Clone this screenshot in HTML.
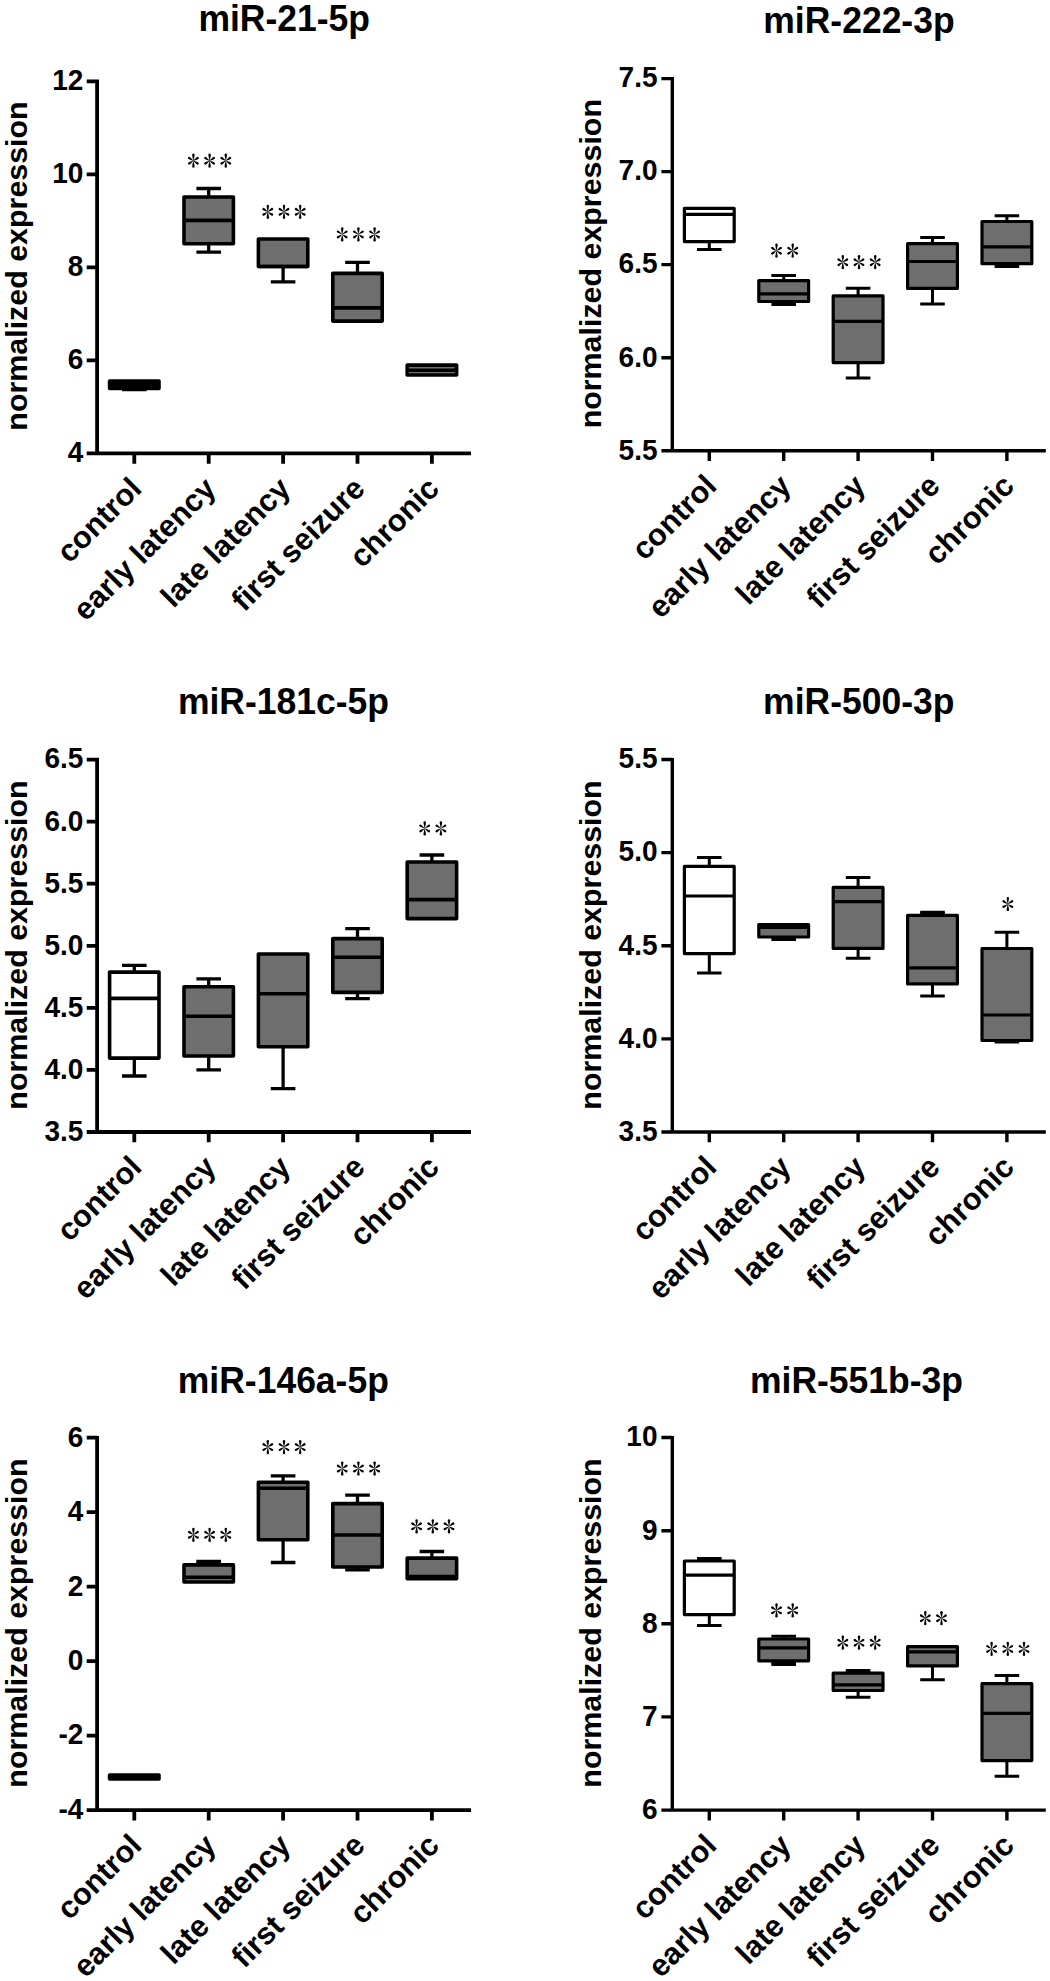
<!DOCTYPE html>
<html><head><meta charset="utf-8"><style>
html,body{margin:0;padding:0;background:#fff;}
svg{display:block;}
text{font-family:"Liberation Sans", sans-serif;font-weight:bold;fill:#000;}
.t{font-size:35.5px;}
.yl{font-size:30.4px;}
.n{font-size:28px;}
.c{font-size:30.8px;}
</style></head><body>
<svg width="1050" height="1981" viewBox="0 0 1050 1981">
<defs><path id="pt" d="M0,0.2C-0.45,-1.5 -1.2,-4.6 -1.2,-5.9A1.2,1.2 0 0 1 1.2,-5.9C1.2,-4.6 0.45,-1.5 0,0.2Z" fill="#000"/><path id="pd" d="M0,0.2C-0.45,-1.3 -1.15,-3.9 -1.15,-5.1A1.15,1.15 0 0 1 1.15,-5.1C1.15,-3.9 0.45,-1.3 0,0.2Z" fill="#000"/></defs>
<rect width="1050" height="1981" fill="#fff"/>
<text transform="translate(198.4,30.6) scale(1,1.04)" class="t">miR-21-5p</text>
<text class="yl" transform="translate(26.7,266.0) rotate(-90)" text-anchor="middle">normalized expression</text>
<path d="M97.1,79.6V453.4M86.7,453.4H471.0M86.7,81.4H97.1M86.7,174.4H97.1M86.7,267.4H97.1M86.7,360.4H97.1M134.3,453.4V463.7M208.7,453.4V463.7M283.1,453.4V463.7M357.5,453.4V463.7M431.9,453.4V463.7" stroke="#000" stroke-width="3.8" fill="none"/>
<text transform="translate(83.4,90.2) scale(1,1.04)" class="n" text-anchor="end">12</text>
<text transform="translate(83.4,183.2) scale(1,1.04)" class="n" text-anchor="end">10</text>
<text transform="translate(83.4,276.2) scale(1,1.04)" class="n" text-anchor="end">8</text>
<text transform="translate(83.4,369.2) scale(1,1.04)" class="n" text-anchor="end">6</text>
<text transform="translate(83.4,462.2) scale(1,1.04)" class="n" text-anchor="end">4</text>
<text class="c" text-anchor="end" transform="translate(143.3,490.4) rotate(-45)">control</text>
<text class="c" text-anchor="end" transform="translate(217.7,490.4) rotate(-45)">early latency</text>
<text class="c" text-anchor="end" transform="translate(292.1,490.4) rotate(-45)">late latency</text>
<text class="c" text-anchor="end" transform="translate(366.5,490.4) rotate(-45)">first seizure</text>
<text class="c" text-anchor="end" transform="translate(440.9,490.4) rotate(-45)">chronic</text>
<path d="M134.3,388.5V389.5M122.0,389.5H146.6" stroke="#000" stroke-width="3.3" fill="none"/>
<rect x="109.6" y="381.1" width="49.4" height="7.4" fill="#000" stroke="#000" stroke-width="3.6" stroke-linejoin="round"/>
<path d="M109.6,384.8H159.0" stroke="#000" stroke-width="3.6"/>
<path d="M208.7,197.0V188.5M196.4,188.5H221.0M208.7,243.7V252.2M196.4,252.2H221.0" stroke="#000" stroke-width="3.3" fill="none"/>
<rect x="184.0" y="197.0" width="49.4" height="46.7" fill="#6e6e6e" stroke="#000" stroke-width="3.6" stroke-linejoin="round"/>
<path d="M184.0,220.4H233.4" stroke="#000" stroke-width="3.6"/>
<use href="#pt" transform="translate(193.4,160.7) rotate(0)"/><use href="#pt" transform="translate(193.4,160.7) rotate(180)"/><use href="#pd" transform="translate(193.4,160.7) rotate(57)"/><use href="#pd" transform="translate(193.4,160.7) rotate(123)"/><use href="#pd" transform="translate(193.4,160.7) rotate(237)"/><use href="#pd" transform="translate(193.4,160.7) rotate(303)"/>
<use href="#pt" transform="translate(209.6,160.7) rotate(0)"/><use href="#pt" transform="translate(209.6,160.7) rotate(180)"/><use href="#pd" transform="translate(209.6,160.7) rotate(57)"/><use href="#pd" transform="translate(209.6,160.7) rotate(123)"/><use href="#pd" transform="translate(209.6,160.7) rotate(237)"/><use href="#pd" transform="translate(209.6,160.7) rotate(303)"/>
<use href="#pt" transform="translate(225.8,160.7) rotate(0)"/><use href="#pt" transform="translate(225.8,160.7) rotate(180)"/><use href="#pd" transform="translate(225.8,160.7) rotate(57)"/><use href="#pd" transform="translate(225.8,160.7) rotate(123)"/><use href="#pd" transform="translate(225.8,160.7) rotate(237)"/><use href="#pd" transform="translate(225.8,160.7) rotate(303)"/>
<path d="M283.1,266.5V281.8M270.8,281.8H295.4" stroke="#000" stroke-width="3.3" fill="none"/>
<rect x="258.4" y="239.0" width="49.4" height="27.5" fill="#6e6e6e" stroke="#000" stroke-width="3.6" stroke-linejoin="round"/>
<path d="M258.4,266.5H307.8" stroke="#000" stroke-width="3.6"/>
<use href="#pt" transform="translate(267.8,211.8) rotate(0)"/><use href="#pt" transform="translate(267.8,211.8) rotate(180)"/><use href="#pd" transform="translate(267.8,211.8) rotate(57)"/><use href="#pd" transform="translate(267.8,211.8) rotate(123)"/><use href="#pd" transform="translate(267.8,211.8) rotate(237)"/><use href="#pd" transform="translate(267.8,211.8) rotate(303)"/>
<use href="#pt" transform="translate(284.0,211.8) rotate(0)"/><use href="#pt" transform="translate(284.0,211.8) rotate(180)"/><use href="#pd" transform="translate(284.0,211.8) rotate(57)"/><use href="#pd" transform="translate(284.0,211.8) rotate(123)"/><use href="#pd" transform="translate(284.0,211.8) rotate(237)"/><use href="#pd" transform="translate(284.0,211.8) rotate(303)"/>
<use href="#pt" transform="translate(300.2,211.8) rotate(0)"/><use href="#pt" transform="translate(300.2,211.8) rotate(180)"/><use href="#pd" transform="translate(300.2,211.8) rotate(57)"/><use href="#pd" transform="translate(300.2,211.8) rotate(123)"/><use href="#pd" transform="translate(300.2,211.8) rotate(237)"/><use href="#pd" transform="translate(300.2,211.8) rotate(303)"/>
<path d="M357.5,273.4V262.4M345.2,262.4H369.8" stroke="#000" stroke-width="3.3" fill="none"/>
<rect x="332.8" y="273.4" width="49.4" height="47.7" fill="#6e6e6e" stroke="#000" stroke-width="3.6" stroke-linejoin="round"/>
<path d="M332.8,307.9H382.2" stroke="#000" stroke-width="3.6"/>
<use href="#pt" transform="translate(342.2,234.4) rotate(0)"/><use href="#pt" transform="translate(342.2,234.4) rotate(180)"/><use href="#pd" transform="translate(342.2,234.4) rotate(57)"/><use href="#pd" transform="translate(342.2,234.4) rotate(123)"/><use href="#pd" transform="translate(342.2,234.4) rotate(237)"/><use href="#pd" transform="translate(342.2,234.4) rotate(303)"/>
<use href="#pt" transform="translate(358.4,234.4) rotate(0)"/><use href="#pt" transform="translate(358.4,234.4) rotate(180)"/><use href="#pd" transform="translate(358.4,234.4) rotate(57)"/><use href="#pd" transform="translate(358.4,234.4) rotate(123)"/><use href="#pd" transform="translate(358.4,234.4) rotate(237)"/><use href="#pd" transform="translate(358.4,234.4) rotate(303)"/>
<use href="#pt" transform="translate(374.6,234.4) rotate(0)"/><use href="#pt" transform="translate(374.6,234.4) rotate(180)"/><use href="#pd" transform="translate(374.6,234.4) rotate(57)"/><use href="#pd" transform="translate(374.6,234.4) rotate(123)"/><use href="#pd" transform="translate(374.6,234.4) rotate(237)"/><use href="#pd" transform="translate(374.6,234.4) rotate(303)"/>
<rect x="407.2" y="365.1" width="49.4" height="9.9" fill="#6e6e6e" stroke="#000" stroke-width="3.6" stroke-linejoin="round"/>
<path d="M407.2,370.3H456.6" stroke="#000" stroke-width="3.6"/>
<text transform="translate(763.3,33.0) scale(1,1.04)" class="t">miR-222-3p</text>
<text class="yl" transform="translate(601.0,263.7) rotate(-90)" text-anchor="middle">normalized expression</text>
<path d="M672.3,77.0V450.7M661.4,450.7H1045.8M661.4,78.6H672.3M661.4,171.6H672.3M661.4,264.6H672.3M661.4,357.7H672.3M709.3,450.7V461.0M783.7,450.7V461.0M858.1,450.7V461.0M932.5,450.7V461.0M1006.9,450.7V461.0" stroke="#000" stroke-width="3.4" fill="none"/>
<text transform="translate(657.5,87.4) scale(1,1.04)" class="n" text-anchor="end">7.5</text>
<text transform="translate(657.5,180.4) scale(1,1.04)" class="n" text-anchor="end">7.0</text>
<text transform="translate(657.5,273.4) scale(1,1.04)" class="n" text-anchor="end">6.5</text>
<text transform="translate(657.5,366.5) scale(1,1.04)" class="n" text-anchor="end">6.0</text>
<text transform="translate(657.5,459.5) scale(1,1.04)" class="n" text-anchor="end">5.5</text>
<text class="c" text-anchor="end" transform="translate(718.3,487.7) rotate(-45)">control</text>
<text class="c" text-anchor="end" transform="translate(792.7,487.7) rotate(-45)">early latency</text>
<text class="c" text-anchor="end" transform="translate(867.1,487.7) rotate(-45)">late latency</text>
<text class="c" text-anchor="end" transform="translate(941.5,487.7) rotate(-45)">first seizure</text>
<text class="c" text-anchor="end" transform="translate(1015.9,487.7) rotate(-45)">chronic</text>
<path d="M709.3,241.6V249.6M697.0,249.6H721.6" stroke="#000" stroke-width="3.0" fill="none"/>
<rect x="684.4" y="208.4" width="49.8" height="33.2" fill="#fff" stroke="#000" stroke-width="3.2" stroke-linejoin="round"/>
<path d="M684.4,214.3H734.2" stroke="#000" stroke-width="3.2"/>
<path d="M783.7,280.6V275.5M771.4,275.5H796.0M783.7,301.5V304.6M771.4,304.6H796.0" stroke="#000" stroke-width="3.0" fill="none"/>
<rect x="758.8" y="280.6" width="49.8" height="20.9" fill="#6e6e6e" stroke="#000" stroke-width="3.2" stroke-linejoin="round"/>
<path d="M758.8,293.8H808.6" stroke="#000" stroke-width="3.2"/>
<use href="#pt" transform="translate(776.5,250.7) rotate(0)"/><use href="#pt" transform="translate(776.5,250.7) rotate(180)"/><use href="#pd" transform="translate(776.5,250.7) rotate(57)"/><use href="#pd" transform="translate(776.5,250.7) rotate(123)"/><use href="#pd" transform="translate(776.5,250.7) rotate(237)"/><use href="#pd" transform="translate(776.5,250.7) rotate(303)"/>
<use href="#pt" transform="translate(792.7,250.7) rotate(0)"/><use href="#pt" transform="translate(792.7,250.7) rotate(180)"/><use href="#pd" transform="translate(792.7,250.7) rotate(57)"/><use href="#pd" transform="translate(792.7,250.7) rotate(123)"/><use href="#pd" transform="translate(792.7,250.7) rotate(237)"/><use href="#pd" transform="translate(792.7,250.7) rotate(303)"/>
<path d="M858.1,295.8V288.2M845.8,288.2H870.4M858.1,362.6V378.1M845.8,378.1H870.4" stroke="#000" stroke-width="3.0" fill="none"/>
<rect x="833.2" y="295.8" width="49.8" height="66.8" fill="#6e6e6e" stroke="#000" stroke-width="3.2" stroke-linejoin="round"/>
<path d="M833.2,321.4H883.0" stroke="#000" stroke-width="3.2"/>
<use href="#pt" transform="translate(842.8,262.2) rotate(0)"/><use href="#pt" transform="translate(842.8,262.2) rotate(180)"/><use href="#pd" transform="translate(842.8,262.2) rotate(57)"/><use href="#pd" transform="translate(842.8,262.2) rotate(123)"/><use href="#pd" transform="translate(842.8,262.2) rotate(237)"/><use href="#pd" transform="translate(842.8,262.2) rotate(303)"/>
<use href="#pt" transform="translate(859.0,262.2) rotate(0)"/><use href="#pt" transform="translate(859.0,262.2) rotate(180)"/><use href="#pd" transform="translate(859.0,262.2) rotate(57)"/><use href="#pd" transform="translate(859.0,262.2) rotate(123)"/><use href="#pd" transform="translate(859.0,262.2) rotate(237)"/><use href="#pd" transform="translate(859.0,262.2) rotate(303)"/>
<use href="#pt" transform="translate(875.2,262.2) rotate(0)"/><use href="#pt" transform="translate(875.2,262.2) rotate(180)"/><use href="#pd" transform="translate(875.2,262.2) rotate(57)"/><use href="#pd" transform="translate(875.2,262.2) rotate(123)"/><use href="#pd" transform="translate(875.2,262.2) rotate(237)"/><use href="#pd" transform="translate(875.2,262.2) rotate(303)"/>
<path d="M932.5,243.7V237.6M920.2,237.6H944.8M932.5,288.4V303.9M920.2,303.9H944.8" stroke="#000" stroke-width="3.0" fill="none"/>
<rect x="907.6" y="243.7" width="49.8" height="44.7" fill="#6e6e6e" stroke="#000" stroke-width="3.2" stroke-linejoin="round"/>
<path d="M907.6,261.5H957.4" stroke="#000" stroke-width="3.2"/>
<path d="M1006.9,221.5V215.7M994.6,215.7H1019.2M1006.9,263.7V266.5M994.6,266.5H1019.2" stroke="#000" stroke-width="3.0" fill="none"/>
<rect x="982.0" y="221.5" width="49.8" height="42.2" fill="#6e6e6e" stroke="#000" stroke-width="3.2" stroke-linejoin="round"/>
<path d="M982.0,246.8H1031.8" stroke="#000" stroke-width="3.2"/>
<text transform="translate(177.9,714.2) scale(1,1.04)" class="t">miR-181c-5p</text>
<text class="yl" transform="translate(26.7,945.0) rotate(-90)" text-anchor="middle">normalized expression</text>
<path d="M97.1,757.8V1132.0M86.7,1132.0H471.0M86.7,759.6H97.1M86.7,821.7H97.1M86.7,883.7H97.1M86.7,945.8H97.1M86.7,1007.9H97.1M86.7,1069.9H97.1M134.3,1132.0V1142.3M208.7,1132.0V1142.3M283.1,1132.0V1142.3M357.5,1132.0V1142.3M431.9,1132.0V1142.3" stroke="#000" stroke-width="3.8" fill="none"/>
<text transform="translate(83.4,768.4) scale(1,1.04)" class="n" text-anchor="end">6.5</text>
<text transform="translate(83.4,830.5) scale(1,1.04)" class="n" text-anchor="end">6.0</text>
<text transform="translate(83.4,892.5) scale(1,1.04)" class="n" text-anchor="end">5.5</text>
<text transform="translate(83.4,954.6) scale(1,1.04)" class="n" text-anchor="end">5.0</text>
<text transform="translate(83.4,1016.7) scale(1,1.04)" class="n" text-anchor="end">4.5</text>
<text transform="translate(83.4,1078.7) scale(1,1.04)" class="n" text-anchor="end">4.0</text>
<text transform="translate(83.4,1140.8) scale(1,1.04)" class="n" text-anchor="end">3.5</text>
<text class="c" text-anchor="end" transform="translate(143.3,1169.0) rotate(-45)">control</text>
<text class="c" text-anchor="end" transform="translate(217.7,1169.0) rotate(-45)">early latency</text>
<text class="c" text-anchor="end" transform="translate(292.1,1169.0) rotate(-45)">late latency</text>
<text class="c" text-anchor="end" transform="translate(366.5,1169.0) rotate(-45)">first seizure</text>
<text class="c" text-anchor="end" transform="translate(440.9,1169.0) rotate(-45)">chronic</text>
<path d="M134.3,972.1V965.3M122.0,965.3H146.6M134.3,1058.1V1076.0M122.0,1076.0H146.6" stroke="#000" stroke-width="3.3" fill="none"/>
<rect x="109.6" y="972.1" width="49.4" height="86.0" fill="#fff" stroke="#000" stroke-width="3.6" stroke-linejoin="round"/>
<path d="M109.6,998.4H159.0" stroke="#000" stroke-width="3.6"/>
<path d="M208.7,986.7V978.9M196.4,978.9H221.0M208.7,1056.0V1069.9M196.4,1069.9H221.0" stroke="#000" stroke-width="3.3" fill="none"/>
<rect x="184.0" y="986.7" width="49.4" height="69.3" fill="#6e6e6e" stroke="#000" stroke-width="3.6" stroke-linejoin="round"/>
<path d="M184.0,1016.2H233.4" stroke="#000" stroke-width="3.6"/>
<path d="M283.1,1046.8V1088.6M270.8,1088.6H295.4" stroke="#000" stroke-width="3.3" fill="none"/>
<rect x="258.4" y="954.0" width="49.4" height="92.8" fill="#6e6e6e" stroke="#000" stroke-width="3.6" stroke-linejoin="round"/>
<path d="M258.4,993.8H307.8" stroke="#000" stroke-width="3.6"/>
<path d="M357.5,938.6V928.6M345.2,928.6H369.8M357.5,992.4V998.7M345.2,998.7H369.8" stroke="#000" stroke-width="3.3" fill="none"/>
<rect x="332.8" y="938.6" width="49.4" height="53.8" fill="#6e6e6e" stroke="#000" stroke-width="3.6" stroke-linejoin="round"/>
<path d="M332.8,957.3H382.2" stroke="#000" stroke-width="3.6"/>
<path d="M431.9,862.0V855.0M419.6,855.0H444.2" stroke="#000" stroke-width="3.3" fill="none"/>
<rect x="407.2" y="862.0" width="49.4" height="56.6" fill="#6e6e6e" stroke="#000" stroke-width="3.6" stroke-linejoin="round"/>
<path d="M407.2,899.6H456.6" stroke="#000" stroke-width="3.6"/>
<use href="#pt" transform="translate(424.7,828.4) rotate(0)"/><use href="#pt" transform="translate(424.7,828.4) rotate(180)"/><use href="#pd" transform="translate(424.7,828.4) rotate(57)"/><use href="#pd" transform="translate(424.7,828.4) rotate(123)"/><use href="#pd" transform="translate(424.7,828.4) rotate(237)"/><use href="#pd" transform="translate(424.7,828.4) rotate(303)"/>
<use href="#pt" transform="translate(440.9,828.4) rotate(0)"/><use href="#pt" transform="translate(440.9,828.4) rotate(180)"/><use href="#pd" transform="translate(440.9,828.4) rotate(57)"/><use href="#pd" transform="translate(440.9,828.4) rotate(123)"/><use href="#pd" transform="translate(440.9,828.4) rotate(237)"/><use href="#pd" transform="translate(440.9,828.4) rotate(303)"/>
<text transform="translate(763.1,714.2) scale(1,1.04)" class="t">miR-500-3p</text>
<text class="yl" transform="translate(601.0,945.0) rotate(-90)" text-anchor="middle">normalized expression</text>
<path d="M672.3,757.9V1132.0M661.4,1132.0H1045.8M661.4,759.5H672.3M661.4,852.6H672.3M661.4,945.8H672.3M661.4,1038.9H672.3M709.3,1132.0V1142.3M783.7,1132.0V1142.3M858.1,1132.0V1142.3M932.5,1132.0V1142.3M1006.9,1132.0V1142.3" stroke="#000" stroke-width="3.4" fill="none"/>
<text transform="translate(657.5,768.3) scale(1,1.04)" class="n" text-anchor="end">5.5</text>
<text transform="translate(657.5,861.4) scale(1,1.04)" class="n" text-anchor="end">5.0</text>
<text transform="translate(657.5,954.5) scale(1,1.04)" class="n" text-anchor="end">4.5</text>
<text transform="translate(657.5,1047.7) scale(1,1.04)" class="n" text-anchor="end">4.0</text>
<text transform="translate(657.5,1140.8) scale(1,1.04)" class="n" text-anchor="end">3.5</text>
<text class="c" text-anchor="end" transform="translate(718.3,1169.0) rotate(-45)">control</text>
<text class="c" text-anchor="end" transform="translate(792.7,1169.0) rotate(-45)">early latency</text>
<text class="c" text-anchor="end" transform="translate(867.1,1169.0) rotate(-45)">late latency</text>
<text class="c" text-anchor="end" transform="translate(941.5,1169.0) rotate(-45)">first seizure</text>
<text class="c" text-anchor="end" transform="translate(1015.9,1169.0) rotate(-45)">chronic</text>
<path d="M709.3,866.4V857.4M697.0,857.4H721.6M709.3,953.6V973.1M697.0,973.1H721.6" stroke="#000" stroke-width="3.0" fill="none"/>
<rect x="684.4" y="866.4" width="49.8" height="87.2" fill="#fff" stroke="#000" stroke-width="3.2" stroke-linejoin="round"/>
<path d="M684.4,896.0H734.2" stroke="#000" stroke-width="3.2"/>
<path d="M783.7,937.0V939.6M771.4,939.6H796.0" stroke="#000" stroke-width="3.0" fill="none"/>
<rect x="758.8" y="924.6" width="49.8" height="12.4" fill="#6e6e6e" stroke="#000" stroke-width="3.2" stroke-linejoin="round"/>
<path d="M758.8,927.4H808.6" stroke="#000" stroke-width="3.2"/>
<path d="M858.1,887.4V877.6M845.8,877.6H870.4M858.1,948.4V958.2M845.8,958.2H870.4" stroke="#000" stroke-width="3.0" fill="none"/>
<rect x="833.2" y="887.4" width="49.8" height="61.0" fill="#6e6e6e" stroke="#000" stroke-width="3.2" stroke-linejoin="round"/>
<path d="M833.2,901.7H883.0" stroke="#000" stroke-width="3.2"/>
<rect x="920.2" y="912.2" width="24.6" height="3.2" fill="#000"/>
<path d="M932.5,915.4V912.2M920.2,912.2H944.8M932.5,983.9V996.1M920.2,996.1H944.8" stroke="#000" stroke-width="3.0" fill="none"/>
<rect x="907.6" y="915.4" width="49.8" height="68.5" fill="#6e6e6e" stroke="#000" stroke-width="3.2" stroke-linejoin="round"/>
<path d="M907.6,967.8H957.4" stroke="#000" stroke-width="3.2"/>
<path d="M1006.9,948.5V932.2M994.6,932.2H1019.2M1006.9,1040.5V1042.0M994.6,1042.0H1019.2" stroke="#000" stroke-width="3.0" fill="none"/>
<rect x="982.0" y="948.5" width="49.8" height="92.0" fill="#6e6e6e" stroke="#000" stroke-width="3.2" stroke-linejoin="round"/>
<path d="M982.0,1015.0H1031.8" stroke="#000" stroke-width="3.2"/>
<use href="#pt" transform="translate(1007.8,904.0) rotate(0)"/><use href="#pt" transform="translate(1007.8,904.0) rotate(180)"/><use href="#pd" transform="translate(1007.8,904.0) rotate(57)"/><use href="#pd" transform="translate(1007.8,904.0) rotate(123)"/><use href="#pd" transform="translate(1007.8,904.0) rotate(237)"/><use href="#pd" transform="translate(1007.8,904.0) rotate(303)"/>
<text transform="translate(177.8,1393.0) scale(1,1.04)" class="t">miR-146a-5p</text>
<text class="yl" transform="translate(26.7,1623.0) rotate(-90)" text-anchor="middle">normalized expression</text>
<path d="M97.1,1435.9V1810.1M86.7,1810.1H471.0M86.7,1437.7H97.1M86.7,1512.2H97.1M86.7,1586.7H97.1M86.7,1661.1H97.1M86.7,1735.6H97.1M134.3,1810.1V1820.4M208.7,1810.1V1820.4M283.1,1810.1V1820.4M357.5,1810.1V1820.4M431.9,1810.1V1820.4" stroke="#000" stroke-width="3.8" fill="none"/>
<text transform="translate(83.4,1446.5) scale(1,1.04)" class="n" text-anchor="end">6</text>
<text transform="translate(83.4,1521.0) scale(1,1.04)" class="n" text-anchor="end">4</text>
<text transform="translate(83.4,1595.5) scale(1,1.04)" class="n" text-anchor="end">2</text>
<text transform="translate(83.4,1669.9) scale(1,1.04)" class="n" text-anchor="end">0</text>
<text transform="translate(83.4,1744.4) scale(1,1.04)" class="n" text-anchor="end">-2</text>
<text transform="translate(83.4,1818.9) scale(1,1.04)" class="n" text-anchor="end">-4</text>
<text class="c" text-anchor="end" transform="translate(143.3,1847.1) rotate(-45)">control</text>
<text class="c" text-anchor="end" transform="translate(217.7,1847.1) rotate(-45)">early latency</text>
<text class="c" text-anchor="end" transform="translate(292.1,1847.1) rotate(-45)">late latency</text>
<text class="c" text-anchor="end" transform="translate(366.5,1847.1) rotate(-45)">first seizure</text>
<text class="c" text-anchor="end" transform="translate(440.9,1847.1) rotate(-45)">chronic</text>
<rect x="109.6" y="1775.0" width="49.4" height="4.0" fill="#000" stroke="#000" stroke-width="3.6" stroke-linejoin="round"/>
<path d="M109.6,1777.2H159.0" stroke="#000" stroke-width="3.6"/>
<rect x="196.4" y="1561.3" width="24.6" height="3.6" fill="#000"/>
<path d="M208.7,1564.9V1561.3M196.4,1561.3H221.0" stroke="#000" stroke-width="3.3" fill="none"/>
<rect x="184.0" y="1564.9" width="49.4" height="17.1" fill="#6e6e6e" stroke="#000" stroke-width="3.6" stroke-linejoin="round"/>
<path d="M184.0,1577.2H233.4" stroke="#000" stroke-width="3.6"/>
<use href="#pt" transform="translate(193.4,1534.8) rotate(0)"/><use href="#pt" transform="translate(193.4,1534.8) rotate(180)"/><use href="#pd" transform="translate(193.4,1534.8) rotate(57)"/><use href="#pd" transform="translate(193.4,1534.8) rotate(123)"/><use href="#pd" transform="translate(193.4,1534.8) rotate(237)"/><use href="#pd" transform="translate(193.4,1534.8) rotate(303)"/>
<use href="#pt" transform="translate(209.6,1534.8) rotate(0)"/><use href="#pt" transform="translate(209.6,1534.8) rotate(180)"/><use href="#pd" transform="translate(209.6,1534.8) rotate(57)"/><use href="#pd" transform="translate(209.6,1534.8) rotate(123)"/><use href="#pd" transform="translate(209.6,1534.8) rotate(237)"/><use href="#pd" transform="translate(209.6,1534.8) rotate(303)"/>
<use href="#pt" transform="translate(225.8,1534.8) rotate(0)"/><use href="#pt" transform="translate(225.8,1534.8) rotate(180)"/><use href="#pd" transform="translate(225.8,1534.8) rotate(57)"/><use href="#pd" transform="translate(225.8,1534.8) rotate(123)"/><use href="#pd" transform="translate(225.8,1534.8) rotate(237)"/><use href="#pd" transform="translate(225.8,1534.8) rotate(303)"/>
<path d="M283.1,1482.2V1475.9M270.8,1475.9H295.4M283.1,1539.7V1562.5M270.8,1562.5H295.4" stroke="#000" stroke-width="3.3" fill="none"/>
<rect x="258.4" y="1482.2" width="49.4" height="57.5" fill="#6e6e6e" stroke="#000" stroke-width="3.6" stroke-linejoin="round"/>
<path d="M258.4,1488.3H307.8" stroke="#000" stroke-width="3.6"/>
<use href="#pt" transform="translate(267.8,1447.1) rotate(0)"/><use href="#pt" transform="translate(267.8,1447.1) rotate(180)"/><use href="#pd" transform="translate(267.8,1447.1) rotate(57)"/><use href="#pd" transform="translate(267.8,1447.1) rotate(123)"/><use href="#pd" transform="translate(267.8,1447.1) rotate(237)"/><use href="#pd" transform="translate(267.8,1447.1) rotate(303)"/>
<use href="#pt" transform="translate(284.0,1447.1) rotate(0)"/><use href="#pt" transform="translate(284.0,1447.1) rotate(180)"/><use href="#pd" transform="translate(284.0,1447.1) rotate(57)"/><use href="#pd" transform="translate(284.0,1447.1) rotate(123)"/><use href="#pd" transform="translate(284.0,1447.1) rotate(237)"/><use href="#pd" transform="translate(284.0,1447.1) rotate(303)"/>
<use href="#pt" transform="translate(300.2,1447.1) rotate(0)"/><use href="#pt" transform="translate(300.2,1447.1) rotate(180)"/><use href="#pd" transform="translate(300.2,1447.1) rotate(57)"/><use href="#pd" transform="translate(300.2,1447.1) rotate(123)"/><use href="#pd" transform="translate(300.2,1447.1) rotate(237)"/><use href="#pd" transform="translate(300.2,1447.1) rotate(303)"/>
<path d="M357.5,1503.6V1495.2M345.2,1495.2H369.8M357.5,1567.0V1569.8M345.2,1569.8H369.8" stroke="#000" stroke-width="3.3" fill="none"/>
<rect x="332.8" y="1503.6" width="49.4" height="63.4" fill="#6e6e6e" stroke="#000" stroke-width="3.6" stroke-linejoin="round"/>
<path d="M332.8,1535.0H382.2" stroke="#000" stroke-width="3.6"/>
<use href="#pt" transform="translate(342.2,1468.5) rotate(0)"/><use href="#pt" transform="translate(342.2,1468.5) rotate(180)"/><use href="#pd" transform="translate(342.2,1468.5) rotate(57)"/><use href="#pd" transform="translate(342.2,1468.5) rotate(123)"/><use href="#pd" transform="translate(342.2,1468.5) rotate(237)"/><use href="#pd" transform="translate(342.2,1468.5) rotate(303)"/>
<use href="#pt" transform="translate(358.4,1468.5) rotate(0)"/><use href="#pt" transform="translate(358.4,1468.5) rotate(180)"/><use href="#pd" transform="translate(358.4,1468.5) rotate(57)"/><use href="#pd" transform="translate(358.4,1468.5) rotate(123)"/><use href="#pd" transform="translate(358.4,1468.5) rotate(237)"/><use href="#pd" transform="translate(358.4,1468.5) rotate(303)"/>
<use href="#pt" transform="translate(374.6,1468.5) rotate(0)"/><use href="#pt" transform="translate(374.6,1468.5) rotate(180)"/><use href="#pd" transform="translate(374.6,1468.5) rotate(57)"/><use href="#pd" transform="translate(374.6,1468.5) rotate(123)"/><use href="#pd" transform="translate(374.6,1468.5) rotate(237)"/><use href="#pd" transform="translate(374.6,1468.5) rotate(303)"/>
<path d="M431.9,1558.1V1551.5M419.6,1551.5H444.2" stroke="#000" stroke-width="3.3" fill="none"/>
<rect x="407.2" y="1558.1" width="49.4" height="20.6" fill="#6e6e6e" stroke="#000" stroke-width="3.6" stroke-linejoin="round"/>
<path d="M407.2,1576.5H456.6" stroke="#000" stroke-width="3.6"/>
<use href="#pt" transform="translate(416.6,1526.3) rotate(0)"/><use href="#pt" transform="translate(416.6,1526.3) rotate(180)"/><use href="#pd" transform="translate(416.6,1526.3) rotate(57)"/><use href="#pd" transform="translate(416.6,1526.3) rotate(123)"/><use href="#pd" transform="translate(416.6,1526.3) rotate(237)"/><use href="#pd" transform="translate(416.6,1526.3) rotate(303)"/>
<use href="#pt" transform="translate(432.8,1526.3) rotate(0)"/><use href="#pt" transform="translate(432.8,1526.3) rotate(180)"/><use href="#pd" transform="translate(432.8,1526.3) rotate(57)"/><use href="#pd" transform="translate(432.8,1526.3) rotate(123)"/><use href="#pd" transform="translate(432.8,1526.3) rotate(237)"/><use href="#pd" transform="translate(432.8,1526.3) rotate(303)"/>
<use href="#pt" transform="translate(449.0,1526.3) rotate(0)"/><use href="#pt" transform="translate(449.0,1526.3) rotate(180)"/><use href="#pd" transform="translate(449.0,1526.3) rotate(57)"/><use href="#pd" transform="translate(449.0,1526.3) rotate(123)"/><use href="#pd" transform="translate(449.0,1526.3) rotate(237)"/><use href="#pd" transform="translate(449.0,1526.3) rotate(303)"/>
<text transform="translate(750.0,1393.0) scale(1,1.04)" class="t">miR-551b-3p</text>
<text class="yl" transform="translate(601.0,1623.0) rotate(-90)" text-anchor="middle">normalized expression</text>
<path d="M672.3,1435.9V1810.1M661.4,1810.1H1045.8M661.4,1437.5H672.3M661.4,1530.7H672.3M661.4,1623.8H672.3M661.4,1716.9H672.3M709.3,1810.1V1820.4M783.7,1810.1V1820.4M858.1,1810.1V1820.4M932.5,1810.1V1820.4M1006.9,1810.1V1820.4" stroke="#000" stroke-width="3.4" fill="none"/>
<text transform="translate(657.5,1446.3) scale(1,1.04)" class="n" text-anchor="end">10</text>
<text transform="translate(657.5,1539.5) scale(1,1.04)" class="n" text-anchor="end">9</text>
<text transform="translate(657.5,1632.6) scale(1,1.04)" class="n" text-anchor="end">8</text>
<text transform="translate(657.5,1725.7) scale(1,1.04)" class="n" text-anchor="end">7</text>
<text transform="translate(657.5,1818.9) scale(1,1.04)" class="n" text-anchor="end">6</text>
<text class="c" text-anchor="end" transform="translate(718.3,1847.1) rotate(-45)">control</text>
<text class="c" text-anchor="end" transform="translate(792.7,1847.1) rotate(-45)">early latency</text>
<text class="c" text-anchor="end" transform="translate(867.1,1847.1) rotate(-45)">late latency</text>
<text class="c" text-anchor="end" transform="translate(941.5,1847.1) rotate(-45)">first seizure</text>
<text class="c" text-anchor="end" transform="translate(1015.9,1847.1) rotate(-45)">chronic</text>
<path d="M709.3,1561.0V1558.5M697.0,1558.5H721.6M709.3,1614.6V1625.4M697.0,1625.4H721.6" stroke="#000" stroke-width="3.0" fill="none"/>
<rect x="684.4" y="1561.0" width="49.8" height="53.6" fill="#fff" stroke="#000" stroke-width="3.2" stroke-linejoin="round"/>
<path d="M684.4,1575.2H734.2" stroke="#000" stroke-width="3.2"/>
<rect x="771.4" y="1660.8" width="24.6" height="3.8" fill="#000"/>
<path d="M783.7,1639.0V1636.2M771.4,1636.2H796.0M783.7,1660.8V1664.6M771.4,1664.6H796.0" stroke="#000" stroke-width="3.0" fill="none"/>
<rect x="758.8" y="1639.0" width="49.8" height="21.8" fill="#6e6e6e" stroke="#000" stroke-width="3.2" stroke-linejoin="round"/>
<path d="M758.8,1647.9H808.6" stroke="#000" stroke-width="3.2"/>
<use href="#pt" transform="translate(776.5,1610.3) rotate(0)"/><use href="#pt" transform="translate(776.5,1610.3) rotate(180)"/><use href="#pd" transform="translate(776.5,1610.3) rotate(57)"/><use href="#pd" transform="translate(776.5,1610.3) rotate(123)"/><use href="#pd" transform="translate(776.5,1610.3) rotate(237)"/><use href="#pd" transform="translate(776.5,1610.3) rotate(303)"/>
<use href="#pt" transform="translate(792.7,1610.3) rotate(0)"/><use href="#pt" transform="translate(792.7,1610.3) rotate(180)"/><use href="#pd" transform="translate(792.7,1610.3) rotate(57)"/><use href="#pd" transform="translate(792.7,1610.3) rotate(123)"/><use href="#pd" transform="translate(792.7,1610.3) rotate(237)"/><use href="#pd" transform="translate(792.7,1610.3) rotate(303)"/>
<path d="M858.1,1673.2V1670.5M845.8,1670.5H870.4M858.1,1690.5V1697.3M845.8,1697.3H870.4" stroke="#000" stroke-width="3.0" fill="none"/>
<rect x="833.2" y="1673.2" width="49.8" height="17.3" fill="#6e6e6e" stroke="#000" stroke-width="3.2" stroke-linejoin="round"/>
<path d="M833.2,1684.8H883.0" stroke="#000" stroke-width="3.2"/>
<use href="#pt" transform="translate(842.8,1642.7) rotate(0)"/><use href="#pt" transform="translate(842.8,1642.7) rotate(180)"/><use href="#pd" transform="translate(842.8,1642.7) rotate(57)"/><use href="#pd" transform="translate(842.8,1642.7) rotate(123)"/><use href="#pd" transform="translate(842.8,1642.7) rotate(237)"/><use href="#pd" transform="translate(842.8,1642.7) rotate(303)"/>
<use href="#pt" transform="translate(859.0,1642.7) rotate(0)"/><use href="#pt" transform="translate(859.0,1642.7) rotate(180)"/><use href="#pd" transform="translate(859.0,1642.7) rotate(57)"/><use href="#pd" transform="translate(859.0,1642.7) rotate(123)"/><use href="#pd" transform="translate(859.0,1642.7) rotate(237)"/><use href="#pd" transform="translate(859.0,1642.7) rotate(303)"/>
<use href="#pt" transform="translate(875.2,1642.7) rotate(0)"/><use href="#pt" transform="translate(875.2,1642.7) rotate(180)"/><use href="#pd" transform="translate(875.2,1642.7) rotate(57)"/><use href="#pd" transform="translate(875.2,1642.7) rotate(123)"/><use href="#pd" transform="translate(875.2,1642.7) rotate(237)"/><use href="#pd" transform="translate(875.2,1642.7) rotate(303)"/>
<path d="M932.5,1665.9V1679.8M920.2,1679.8H944.8" stroke="#000" stroke-width="3.0" fill="none"/>
<rect x="907.6" y="1646.7" width="49.8" height="19.2" fill="#6e6e6e" stroke="#000" stroke-width="3.2" stroke-linejoin="round"/>
<path d="M907.6,1651.8H957.4" stroke="#000" stroke-width="3.2"/>
<use href="#pt" transform="translate(925.3,1618.2) rotate(0)"/><use href="#pt" transform="translate(925.3,1618.2) rotate(180)"/><use href="#pd" transform="translate(925.3,1618.2) rotate(57)"/><use href="#pd" transform="translate(925.3,1618.2) rotate(123)"/><use href="#pd" transform="translate(925.3,1618.2) rotate(237)"/><use href="#pd" transform="translate(925.3,1618.2) rotate(303)"/>
<use href="#pt" transform="translate(941.5,1618.2) rotate(0)"/><use href="#pt" transform="translate(941.5,1618.2) rotate(180)"/><use href="#pd" transform="translate(941.5,1618.2) rotate(57)"/><use href="#pd" transform="translate(941.5,1618.2) rotate(123)"/><use href="#pd" transform="translate(941.5,1618.2) rotate(237)"/><use href="#pd" transform="translate(941.5,1618.2) rotate(303)"/>
<path d="M1006.9,1683.7V1675.4M994.6,1675.4H1019.2M1006.9,1760.6V1776.2M994.6,1776.2H1019.2" stroke="#000" stroke-width="3.0" fill="none"/>
<rect x="982.0" y="1683.7" width="49.8" height="76.9" fill="#6e6e6e" stroke="#000" stroke-width="3.2" stroke-linejoin="round"/>
<path d="M982.0,1713.4H1031.8" stroke="#000" stroke-width="3.2"/>
<use href="#pt" transform="translate(991.6,1648.9) rotate(0)"/><use href="#pt" transform="translate(991.6,1648.9) rotate(180)"/><use href="#pd" transform="translate(991.6,1648.9) rotate(57)"/><use href="#pd" transform="translate(991.6,1648.9) rotate(123)"/><use href="#pd" transform="translate(991.6,1648.9) rotate(237)"/><use href="#pd" transform="translate(991.6,1648.9) rotate(303)"/>
<use href="#pt" transform="translate(1007.8,1648.9) rotate(0)"/><use href="#pt" transform="translate(1007.8,1648.9) rotate(180)"/><use href="#pd" transform="translate(1007.8,1648.9) rotate(57)"/><use href="#pd" transform="translate(1007.8,1648.9) rotate(123)"/><use href="#pd" transform="translate(1007.8,1648.9) rotate(237)"/><use href="#pd" transform="translate(1007.8,1648.9) rotate(303)"/>
<use href="#pt" transform="translate(1024.0,1648.9) rotate(0)"/><use href="#pt" transform="translate(1024.0,1648.9) rotate(180)"/><use href="#pd" transform="translate(1024.0,1648.9) rotate(57)"/><use href="#pd" transform="translate(1024.0,1648.9) rotate(123)"/><use href="#pd" transform="translate(1024.0,1648.9) rotate(237)"/><use href="#pd" transform="translate(1024.0,1648.9) rotate(303)"/>
</svg></body></html>
